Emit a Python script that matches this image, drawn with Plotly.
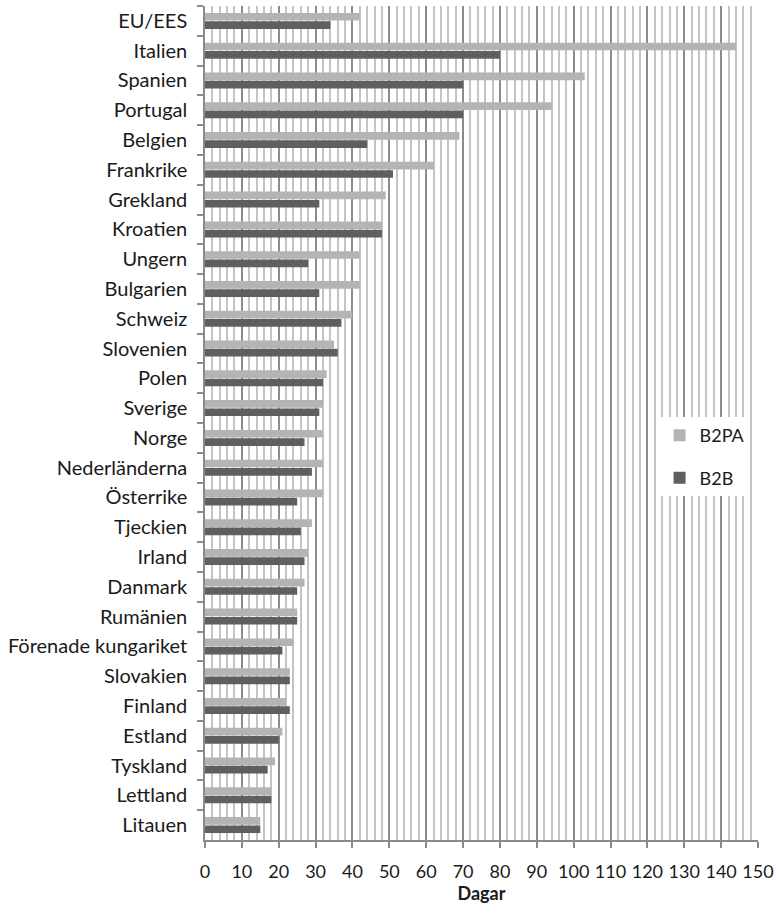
import plotly.graph_objects as go

# Countries, top to bottom
countries = [
    "EU/EES", "Italien", "Spanien", "Portugal", "Belgien", "Frankrike", "Grekland",
    "Kroatien", "Ungern", "Bulgarien", "Schweiz", "Slovenien", "Polen", "Sverige",
    "Norge", "Nederländerna", "Österrike", "Tjeckien", "Irland", "Danmark",
    "Rumänien", "Förenade kungariket", "Slovakien", "Finland", "Estland",
    "Tyskland", "Lettland", "Litauen",
]

# Average payment time in days
b2pa = [42, 144, 103, 94, 69, 62, 49, 48, 42, 42, 40, 35, 33, 32,
        32, 32, 32, 29, 28, 27, 25, 24, 23, 22, 21, 19, 18, 15]
b2b = [34, 80, 70, 70, 44, 51, 31, 48, 28, 31, 37, 36, 32, 31,
       27, 29, 25, 26, 27, 25, 25, 21, 23, 23, 20, 17, 18, 15]

x_ticks = list(range(0, 151, 10))

FONT = "Lato, Carlito, 'Open Sans', sans-serif"
AXIS_GREY = "#8a8a8a"

fig = go.Figure()
fig.add_trace(go.Bar(
    y=countries, x=b2pa, name="B2PA", orientation="h",
    marker=dict(color="#b4b4b4", line=dict(width=0)),
    legendgroup="a",
))
fig.add_trace(go.Bar(
    y=countries, x=b2b, name="B2B", orientation="h",
    marker=dict(color="#5f5f5f", line=dict(width=0)),
    legendgroup="b",
))

fig.update_layout(
    width=780, height=913,
    margin=dict(l=205, r=18, t=6, b=73),
    paper_bgcolor="white", plot_bgcolor="white",
    barmode="group", bargap=0.44, bargroupgap=0.08,
    font=dict(family=FONT, size=18, color="#1a1a1a"),
    legend=dict(
        x=0.822, y=0.507, xanchor="left", yanchor="top",
        bgcolor="white", borderwidth=0,
        font=dict(size=18, color="#1a1a1a"),
        traceorder="grouped", tracegroupgap=16,
    ),
    xaxis=dict(
        range=[0, 150], tickvals=x_ticks, ticktext=[str(v) for v in x_ticks],
        showgrid=True, gridcolor="#8c8c8c", gridwidth=1.5,
        minor=dict(dtick=2, tick0=0, showgrid=True, gridcolor="#c4c4c4", gridwidth=1.5),
        showline=True, linecolor=AXIS_GREY, linewidth=1.5,
        ticks="outside", ticklen=6, tickcolor=AXIS_GREY, tickwidth=1.5,
        ticklabelstandoff=9,
        zeroline=False,
        title=dict(text="<b>Dagar</b>", font=dict(size=18), standoff=6),
        tickfont=dict(size=18),
    ),
    yaxis=dict(
        autorange="reversed", type="category",
        showline=True, linecolor=AXIS_GREY, linewidth=1.5,
        ticks="outside", ticklen=6, tickcolor=AXIS_GREY, tickwidth=1.5,
        tickson="boundaries", showgrid=False,
        ticklabelstandoff=12,
        tickfont=dict(size=20),
    ),
)

fig.write_html("out.html")
